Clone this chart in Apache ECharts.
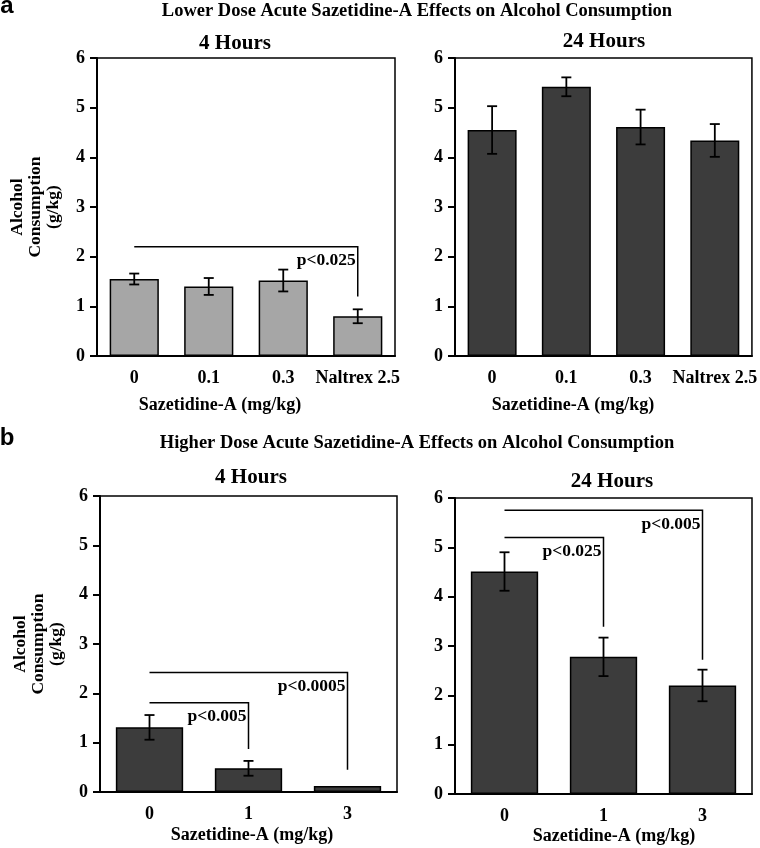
<!DOCTYPE html>
<html>
<head>
<meta charset="utf-8">
<script src="https://cdn.jsdelivr.net/npm/echarts@6/dist/echarts.min.js"></script>
<style>
html,body{margin:0;padding:0;background:#fff;}
#chart{width:760px;height:848px;}
</style>
</head>
<body>
<div id="chart"></div>
<script>
// ---- Data ----
var catsA = ['0', '0.1', '0.3', 'Naltrex 2.5'];
var catsB = ['0', '1', '3'];

var lowDose4h = [1.55, 1.40, 1.52, 0.80];
var lowDose4hErr = [0.11, 0.17, 0.22, 0.14];
var lowDose24h = [4.55, 5.42, 4.61, 4.34];
var lowDose24hErr = [0.48, 0.19, 0.35, 0.33];

var highDose4h = [1.31, 0.48, 0.12];
var highDose4hErr = [0.25, 0.15, 0];
var highDose24h = [4.51, 2.78, 2.20];
var highDose24hErr = [0.39, 0.39, 0.32];

// brackets: [fromCategory, toCategory, barLevel, dropTo]
var lowDose4hBrackets = [[0, 3, 2.2, 1.2]];
var lowDose4hBracketLabels = ['p<0.025'];
var highDose4hBrackets = [[0, 1, 1.81, 0.87], [0, 2, 2.42, 0.45]];
var highDose4hBracketLabels = ['p<0.005', 'p<0.0005'];
var highDose24hBrackets = [[0, 1, 5.2, 3.39], [0, 2, 5.75, 2.72]];
var highDose24hBracketLabels = ['p<0.025', 'p<0.005'];

var yTicks = [0, 6, 1]; // min, max, interval

// ---- Styling ----
var SERIF = '"Liberation Serif", "Times New Roman", serif';
var SANS = '"Liberation Sans", Arial, sans-serif';
var LIGHT = '#a6a6a6';
var DARK = '#3c3c3c';

var grids = [
  {left: 97, top: 58, width: 298, height: 298},
  {left: 455, top: 58, width: 298, height: 298},
  {left: 100, top: 496, width: 297, height: 296},
  {left: 455, top: 498, width: 297, height: 296}
];

function xAxisCfg(i, cats) {
  return {
    type: 'category', gridIndex: i, data: cats, boundaryGap: true,
    axisLine: {lineStyle: {color: '#000', width: 2}},
    axisTick: {alignWithLabel: true, length: 7, lineStyle: {color: '#000', width: 2}},
    axisLabel: {color: '#000', fontFamily: SERIF, fontWeight: 'bold', fontSize: 18, margin: 13, interval: 0},
    splitLine: {show: false}
  };
}
function yAxisCfg(i, withName) {
  var c = {
    type: 'value', gridIndex: i, min: yTicks[0], max: yTicks[1], interval: yTicks[2],
    axisLine: {show: true, lineStyle: {color: '#000', width: 2}},
    axisTick: {show: true, length: 7, lineStyle: {color: '#000', width: 2}},
    axisLabel: {color: '#000', fontFamily: SERIF, fontWeight: 'bold', fontSize: 18, margin: 12},
    splitLine: {show: false}
  };
  if (withName) {
    c.name = 'Alcohol\nConsumption\n(g/kg)';
    c.nameLocation = 'middle';
    c.nameRotate = 90;
    c.nameGap = 35;
    c.nameTextStyle = {color: '#000', fontFamily: SERIF, fontWeight: 'bold', fontSize: 17.5, lineHeight: 18};
  }
  return c;
}

function barSeries(i, vals, color, width) {
  return {
    type: 'bar', xAxisIndex: i, yAxisIndex: i, data: vals, barWidth: width,
    itemStyle: {color: color, borderColor: '#000', borderWidth: 1.5},
    z: 2, silent: true
  };
}

function errSeries(i, vals, errs) {
  var d = vals.map(function (v, k) { return [k, v, errs[k]]; });
  return {
    type: 'custom', xAxisIndex: i, yAxisIndex: i, data: d, z: 5, silent: true,
    encode: {x: 0, y: 1},
    renderItem: function (params, api) {
      var e = api.value(2);
      if (!e) return null;
      var x = api.value(0), m = api.value(1);
      var hi = api.coord([x, m + e]);
      var lo = api.coord([x, m - e]);
      var cw = 5;
      var st = {stroke: '#000', lineWidth: 1.8};
      return {
        type: 'group',
        children: [
          {type: 'line', shape: {x1: hi[0], y1: hi[1], x2: lo[0], y2: lo[1]}, style: st},
          {type: 'line', shape: {x1: hi[0] - cw, y1: hi[1], x2: hi[0] + cw, y2: hi[1]}, style: st},
          {type: 'line', shape: {x1: lo[0] - cw, y1: lo[1], x2: lo[0] + cw, y2: lo[1]}, style: st}
        ]
      };
    }
  };
}

function bracketSeries(i, brackets, labels) {
  return {
    type: 'custom', xAxisIndex: i, yAxisIndex: i, data: brackets, z: 6, silent: true,
    encode: {x: [0, 1], y: [2, 3]},
    renderItem: function (params, api) {
      var a = api.coord([api.value(0), api.value(2)]);
      var b = api.coord([api.value(1), api.value(2)]);
      var c = api.coord([api.value(1), api.value(3)]);
      return {
        type: 'group',
        children: [
          {type: 'polyline', shape: {points: [a, b, c]}, style: {stroke: '#000', lineWidth: 1.5, fill: null}},
          {type: 'text', x: b[0] - 2, y: b[1] + 5,
           style: {text: labels[params.dataIndex], fill: '#000', align: 'right', verticalAlign: 'top',
                   font: 'bold 17.5px ' + SERIF}}
        ]
      };
    }
  };
}

function txt(x, y, s, size, family, align) {
  return {type: 'text', x: x, y: y, silent: true,
    style: {text: s, fill: '#000', align: align || 'center', verticalAlign: 'middle',
            font: 'bold ' + size + 'px ' + (family || SERIF)}};
}

var option = {
  animation: false,
  backgroundColor: '#fff',
  grid: grids.map(function (g) {
    return {left: g.left, top: g.top, width: g.width, height: g.height, show: true,
            borderColor: '#000', borderWidth: 1.5, backgroundColor: 'transparent', containLabel: false};
  }),
  xAxis: [xAxisCfg(0, catsA), xAxisCfg(1, catsA), xAxisCfg(2, catsB), xAxisCfg(3, catsB)],
  yAxis: [yAxisCfg(0, true), yAxisCfg(1, false), yAxisCfg(2, true), yAxisCfg(3, false)],
  series: [
    barSeries(0, lowDose4h, LIGHT, '66%'),
    errSeries(0, lowDose4h, lowDose4hErr),
    bracketSeries(0, lowDose4hBrackets, lowDose4hBracketLabels),
    barSeries(1, lowDose24h, DARK, '66%'),
    errSeries(1, lowDose24h, lowDose24hErr),
    barSeries(2, highDose4h, DARK, '68%'),
    errSeries(2, highDose4h, highDose4hErr),
    bracketSeries(2, highDose4hBrackets, highDose4hBracketLabels),
    barSeries(3, highDose24h, DARK, '68%'),
    errSeries(3, highDose24h, highDose24hErr),
    bracketSeries(3, highDose24hBrackets, highDose24hBracketLabels)
  ],
  graphic: [
    txt(7, 6, 'a', 24, SANS),
    txt(7, 438, 'b', 24, SANS),
    txt(417, 11, 'Lower Dose Acute Sazetidine-A Effects on Alcohol Consumption', 18.5),
    txt(417, 443, 'Higher Dose Acute Sazetidine-A Effects on Alcohol Consumption', 18.5),
    txt(235, 44, '4 Hours', 21),
    txt(604, 42, '24 Hours', 21),
    txt(251, 478, '4 Hours', 21),
    txt(612, 482, '24 Hours', 21),
    txt(220, 405, 'Sazetidine-A (mg/kg)', 18),
    txt(573, 405, 'Sazetidine-A (mg/kg)', 18),
    txt(252, 835, 'Sazetidine-A (mg/kg)', 18),
    txt(614, 836, 'Sazetidine-A (mg/kg)', 18)
  ]
};

var chart = echarts.init(document.getElementById('chart'), null, {renderer: 'canvas'});
chart.setOption(option);
</script>
</body>
</html>
